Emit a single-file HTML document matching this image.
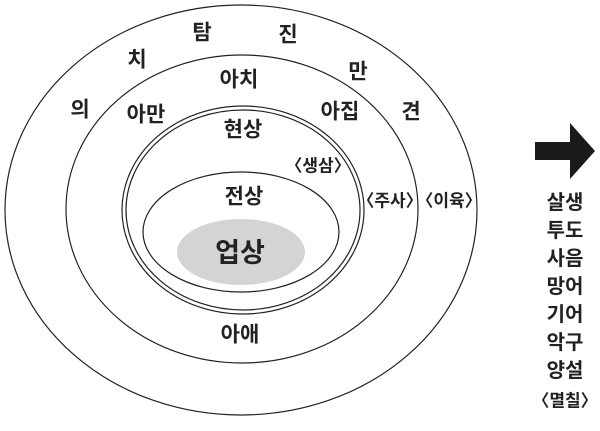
<!DOCTYPE html>
<html><head><meta charset="utf-8"><style>
body{margin:0;background:#fff}
svg text{font-family:"Liberation Sans","Noto Sans CJK KR",sans-serif;fill:#222;text-anchor:middle;dominant-baseline:central;font-weight:bold}
</style></head><body>
<svg width="600" height="426" viewBox="0 0 600 426" xmlns="http://www.w3.org/2000/svg">
<g fill="none" stroke="#222" stroke-width="1.2">
<ellipse cx="241" cy="210" rx="236" ry="205"/>
<ellipse cx="242" cy="209" rx="176" ry="154"/>
<ellipse cx="243" cy="210" rx="121" ry="104"/>
<ellipse cx="243" cy="210" rx="117" ry="100"/>
<ellipse cx="241" cy="232" rx="98" ry="60"/>
</g>
<ellipse cx="241" cy="252" rx="64" ry="33" fill="#d4d4d4"/>
<polygon points="535,142 570,142 570,123 595,151 570,179 570,160 535,160" fill="#1a1a1a"/>
<g font-size="21">
<text x="202" y="33">탐</text><text x="288" y="35">진</text>
<text x="137" y="60">치</text><text x="358" y="72">만</text>
<text x="80" y="110">의</text><text x="411" y="112">견</text>
<text x="239" y="80">아치</text><text x="146" y="115">아만</text><text x="340" y="112">아집</text>
<text x="243" y="130">현상</text><text x="244" y="197">전상</text>
<text x="240" y="335">아애</text>
</g>
<g font-size="17">
<text x="318" y="166">〈생삼〉</text><text x="390" y="201">〈주사〉</text><text x="449" y="201">〈이육〉</text>
</g>
<text x="240" y="253" font-size="27">업상</text>
<g font-size="20">
<text x="565" y="203">살생</text><text x="565" y="231">투도</text><text x="565" y="259">사음</text>
<text x="565" y="287">망어</text><text x="565" y="315">기어</text><text x="565" y="343">악구</text>
<text x="565" y="371">양설</text>
</g>
<text x="565" y="401" font-size="17">〈멸칠〉</text>
</svg>
</body></html>
